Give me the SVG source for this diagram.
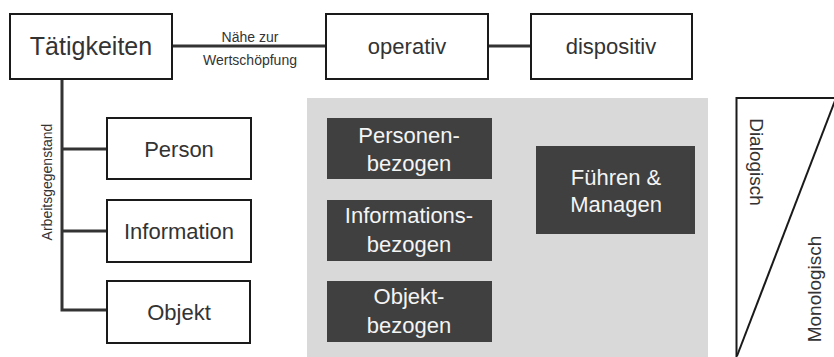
<svg xmlns="http://www.w3.org/2000/svg" width="834" height="357" viewBox="0 0 834 357">
<style>
.box{fill:#fff;stroke:#1a1a1a;stroke-width:2}
.dark{fill:#404040;stroke:none}
.con{stroke:#333;stroke-width:3;fill:none}
text{font-family:"Liberation Sans",Arial,sans-serif;fill:#333;text-anchor:middle}
.lg{font-size:22px}
.wt{fill:#f4f4f4;font-size:22px}
.sm{font-size:14px}
</style>
<rect x="0" y="0" width="834" height="357" fill="#fff"/>
<rect id="panel" x="307" y="98" width="401" height="262" fill="#d9d9d9"/>
<g id="connectors">
<line class="con" x1="172" y1="46" x2="326" y2="46"/>
<line class="con" x1="488" y1="46" x2="531" y2="46"/>
<polyline class="con" points="62,79 62,310 107,310"/>
<line class="con" x1="62" y1="149" x2="107" y2="149"/>
<line class="con" x1="62" y1="231" x2="107" y2="231"/>
<text class="sm" x="250" y="42">Nähe zur</text>
<text class="sm" x="250" y="65">Wertschöpfung</text>
<text class="sm" transform="translate(47,182) rotate(-90)" dy="0.35em">Arbeitsgegenstand</text>
</g>
<g id="taetigkeiten"><rect class="box" x="10" y="14" width="162" height="65"/><text x="91" y="55" font-size="25">Tätigkeiten</text></g>
<g id="operativ"><rect class="box" x="326" y="14" width="162" height="65"/><text class="lg" x="407" y="54">operativ</text></g>
<g id="dispositiv"><rect class="box" x="531" y="14" width="161" height="65"/><text class="lg" x="611" y="54">dispositiv</text></g>
<g id="person"><rect class="box" x="107" y="118" width="144" height="61"/><text class="lg" x="179" y="157">Person</text></g>
<g id="information"><rect class="box" x="107" y="200" width="144" height="62"/><text class="lg" x="179" y="239">Information</text></g>
<g id="objekt"><rect class="box" x="107" y="281" width="143" height="62"/><text class="lg" x="179" y="320">Objekt</text></g>
<g id="personenbezogen"><rect class="dark" x="327" y="118" width="165" height="61"/><text class="wt" x="409" y="143">Personen-</text><text class="wt" x="409" y="171">bezogen</text></g>
<g id="informationsbezogen"><rect class="dark" x="327" y="200" width="165" height="61"/><text class="wt" x="409" y="223">Informations-</text><text class="wt" x="409" y="252">bezogen</text></g>
<g id="objektbezogen"><rect class="dark" x="327" y="281" width="165" height="61"/><text class="wt" x="409" y="304">Objekt-</text><text class="wt" x="409" y="333">bezogen</text></g>
<g id="fuehren"><rect class="dark" x="536" y="146" width="159" height="88"/><text class="wt" x="616" y="185">Führen &amp;</text><text class="wt" x="616" y="212">Managen</text></g>
<g id="kommunikation">
<path d="M836,98 H736.5 V358" fill="none" stroke="#1a1a1a" stroke-width="2"/>
<line x1="836" y1="98" x2="737" y2="356" stroke="#1a1a1a" stroke-width="2"/>
<text transform="translate(757,162) rotate(90)" dy="0.35em" font-size="19">Dialogisch</text>
<text transform="translate(814,289) rotate(-90)" dy="0.35em" font-size="19">Monologisch</text>
</g>
</svg>
